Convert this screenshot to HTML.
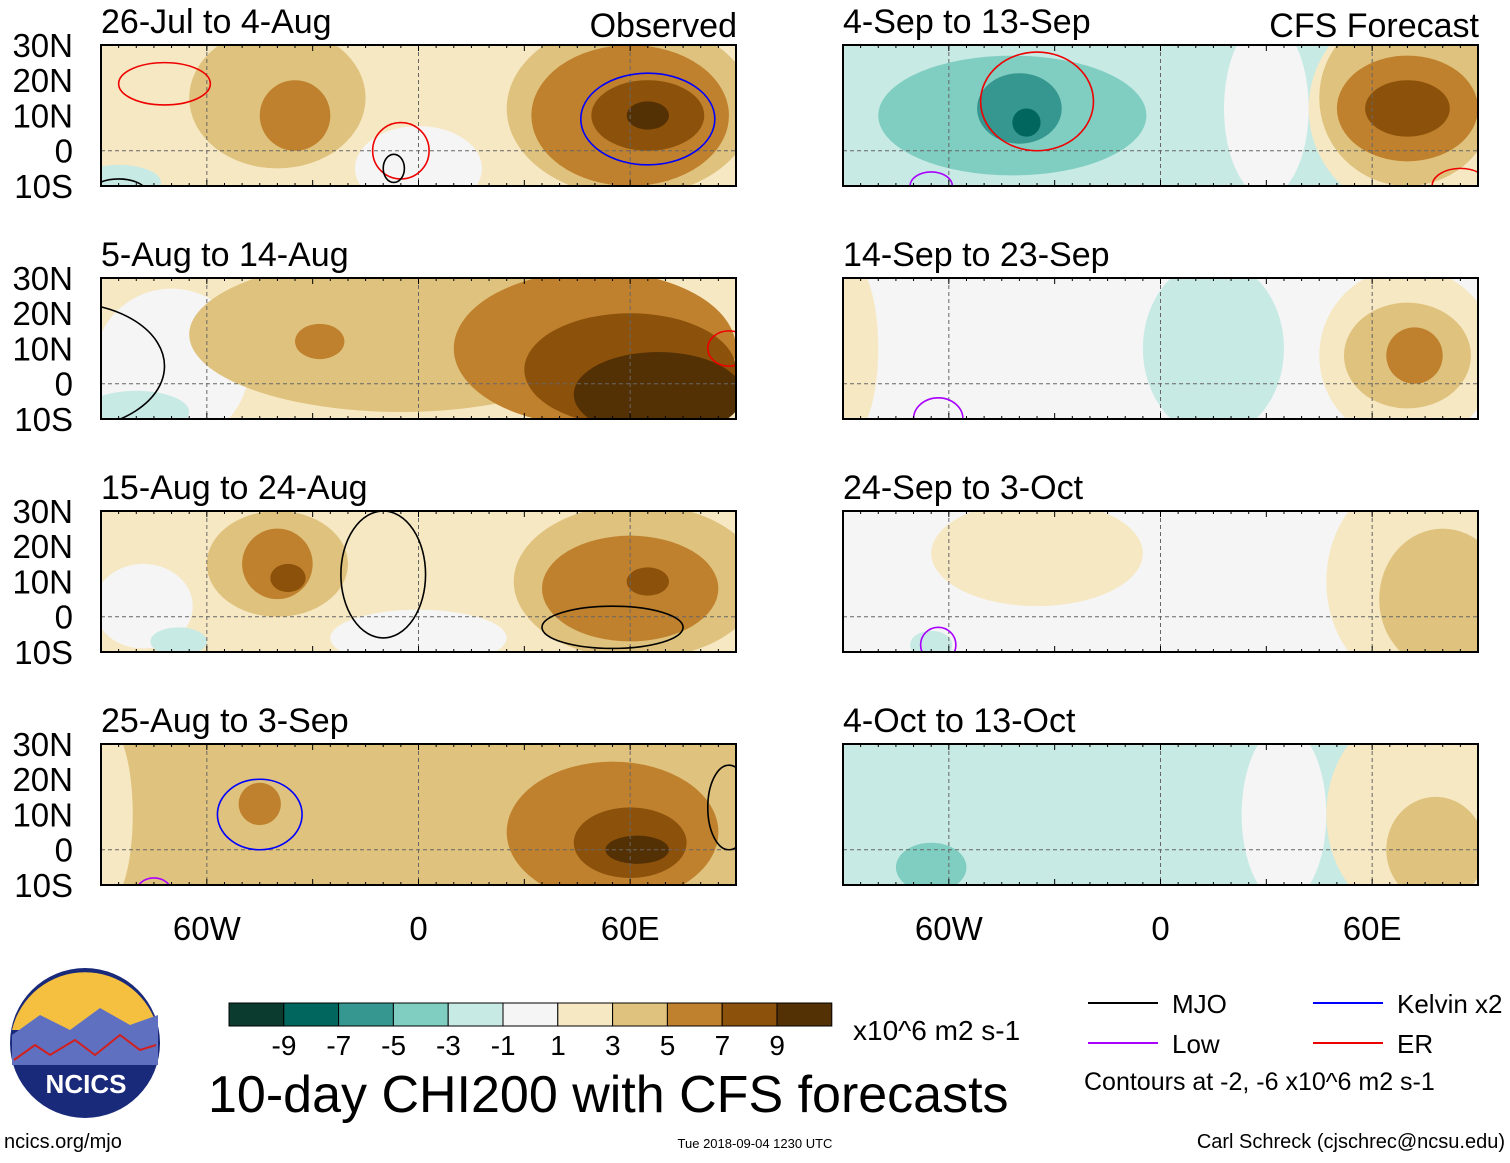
<!DOCTYPE html>
<html><head><meta charset="utf-8">
<style>
body{margin:0;background:#fff;font-family:"Liberation Sans",sans-serif;}
svg text{font-family:"Liberation Sans",sans-serif;}
</style></head>
<body>
<svg id="chart" width="1510" height="1158" xmlns="http://www.w3.org/2000/svg">
<rect width="1510" height="1158" fill="#fff"/>
<g id="panels"></g>
<g id="legend"></g>
</svg>
<script>
const colors = ["#0b3b2e","#01665e","#35978f","#80cdc1","#c7eae5","#f5f5f5","#f6e8c3","#dfc27d","#bf812d","#8c510a","#543005"];
const levelLabels = ["-9","-7","-5","-3","-1","1","3","5","7","9"];
const panelTitles = ["26-Jul to 4-Aug","5-Aug to 14-Aug","15-Aug to 24-Aug","25-Aug to 3-Sep","4-Sep to 13-Sep","14-Sep to 23-Sep","24-Sep to 3-Oct","4-Oct to 13-Oct"];
const panelBase = [6,6,6,7,4,5,5,4];
// blobs: [lon, lat, rlon, rlat, level]
const blobs0 = [[-40,15,25,20,7],[-35,10,10,10,8],[0,-5,18,12,5],[-85,-9,12,5,4],[60,12,35,25,7],[60,10,28,20,8],[65,10,16,10,9],[65,10,6,4,10]];
const blobs1 = [[-70,5,22,22,5],[-80,-8,15,6,4],[-5,14,60,22,7],[-28,12,7,5,8],[50,10,40,22,8],[60,4,30,16,9],[68,-3,24,12,10]];
const blobs2 = [[-78,3,14,12,5],[-68,-7,8,4,4],[0,-6,25,8,5],[-40,15,20,15,7],[-40,15,10,10,8],[-37,11,5,4,9],[62,10,35,22,7],[60,8,25,15,8],[65,10,6,4,9]];
const blobs3 = [[-88,10,7,25,6],[-45,13,6,6,8],[55,5,30,20,8],[60,2,16,10,9],[62,0,9,4,10]];
const blobs4 = [[-42,10,38,17,3],[-40,12,12,10,2],[-38,8,4,4,1],[30,12,12,25,5],[72,12,30,30,6],[70,15,25,25,7],[70,12,20,15,8],[70,12,12,8,9]];
const blobs5 = [[-88,10,8,25,6],[15,10,20,25,4],[70,8,25,25,6],[70,8,18,15,7],[72,8,8,8,8]];
const blobs6 = [[-35,18,30,15,6],[72,10,25,30,6],[80,5,18,20,7],[-65,-8,6,4,4]];
const blobs7 = [[35,10,12,25,5],[72,10,25,30,6],[78,0,14,15,7],[-65,-5,10,7,3]];
const panelBlobs = [blobs0,blobs1,blobs2,blobs3,blobs4,blobs5,blobs6,blobs7];
// contours: [lon, lat, rlon, rlat, color]
const contours0 = [[-72,19,13,6,"#e00"],[65,9,19,13,"#00f"],[-5,0,8,8,"#e00"],[-7,-5,3,4,"#000"],[-85,-12,8,4,"#000"]];
const contours1 = [[-100,5,28,18,"#000"],[88,10,6,5,"#e00"]];
const contours2 = [[-10,12,12,18,"#000"],[55,-3,20,6,"#000"]];
const contours3 = [[-45,10,12,10,"#00f"],[-75,-12,5,4,"#a0f"],[88,12,6,12,"#000"]];
const contours4 = [[-35,14,16,14,"#e00"],[-65,-10,6,4,"#a0f"],[85,-10,8,5,"#e00"]];
const contours5 = [[-63,-10,7,6,"#a0f"]];
const contours6 = [[-63,-8,5,5,"#a0f"]];
const contours7 = [];
const panelContours = [contours0,contours1,contours2,contours3,contours4,contours5,contours6,contours7];

const NS="http://www.w3.org/2000/svg";
function mk(t,a,p){const e=document.createElementNS(NS,t);for(const k in a)e.setAttribute(k,a[k]);p.appendChild(e);return e;}
const colX=[101,843], rowY=[45,278,511,744], PW=635, PH=141;
const xScale=(lon,x0)=>x0+(lon+90)/180*PW;
const yScale=(lat,y0)=>y0+(30-lat)/40*PH;
const pg=document.getElementById('panels');
const defs=mk('defs',{},pg);
for(let i=0;i<8;i++){
  const x0=colX[Math.floor(i/4)], y0=rowY[i%4];
  const cp=mk('clipPath',{id:'cp'+i},defs);mk('rect',{x:x0,y:y0,width:PW,height:PH},cp);
  const g=mk('g',{'clip-path':'url(#cp'+i+')'},pg);
  
  
  mk('rect',{x:x0,y:y0,width:PW,height:PH,fill:colors[panelBase[i]]},g);
  panelBlobs[i].forEach(b=>{
    const e=mk('ellipse',{cx:xScale(b[0],x0),cy:yScale(b[1],y0),rx:b[2]/180*PW,ry:b[3]/40*PH,fill:colors[b[4]]},g);
    
    
  });
  [-60,0,60].forEach(l=>mk('line',{x1:xScale(l,x0),x2:xScale(l,x0),y1:y0,y2:y0+PH,stroke:'#666','stroke-dasharray':'4,3','stroke-width':1},g));
  mk('line',{x1:x0,x2:x0+PW,y1:yScale(0,y0),y2:yScale(0,y0),stroke:'#666','stroke-dasharray':'4,3','stroke-width':1},g);
  panelContours[i].forEach(c=>{
    const e=mk('ellipse',{cx:xScale(c[0],x0),cy:yScale(c[1],y0),rx:c[2]/180*PW,ry:c[3]/40*PH,fill:'none',stroke:c[4],'stroke-width':1.6},g);
    
    
  });
  mk('rect',{x:x0,y:y0,width:PW,height:PH,fill:'none',stroke:'#000','stroke-width':2},pg);
  for(let l=-90;l<=90;l+=5){const x=xScale(l,x0);const len=l%30===0?6:3;
    mk('line',{x1:x,x2:x,y1:y0,y2:y0+len,stroke:'#000'},pg);mk('line',{x1:x,x2:x,y1:y0+PH,y2:y0+PH-len,stroke:'#000'},pg);}
  const t=mk('text',{x:x0,y:y0-12,'font-size':34},pg);t.textContent=panelTitles[i];
  
  
  if(i%4===3){["60W","0","60E"].forEach((s,k)=>{const tt=mk('text',{x:xScale([-60,0,60][k],x0),y:940,'font-size':33,'text-anchor':'middle'},pg);tt.textContent=s;
    });}
  if(i<4){["30N","20N","10N","0","10S"].forEach((s,k)=>{const tt=mk('text',{x:73,y:y0+12+k*35.2,'font-size':33,'text-anchor':'end'},pg);tt.textContent=s;
    });}
}
const hdr=(s,x,n)=>{const t=mk('text',{x:x,y:37,'font-size':34,'text-anchor':'end'},pg);t.textContent=s;};
hdr("Observed",737,'observed-label');hdr("CFS Forecast",1479,'forecast-label');

const lg=document.getElementById('legend');
for(let i=0;i<11;i++){const r=mk('rect',{x:229+i*54.8,y:1003,width:54.8,height:23,fill:colors[i],stroke:'#000','stroke-width':1},lg);
  }
levelLabels.forEach((s,i)=>{const t=mk('text',{x:284+i*54.8,y:1055,'font-size':28,'text-anchor':'middle'},lg);t.textContent=s;
  });
const txt=(s,x,y,fs,n,anchor)=>{const t=mk('text',{x:x,y:y,'font-size':fs,'text-anchor':anchor||'start'},lg);t.textContent=s;return t;};
txt("x10^6 m2 s-1",853,1040,28,'units-label');
txt("10-day CHI200 with CFS forecasts",208,1112,52,'main-title');
[["MJO","#000",1088,1003],["Low","#a0f",1088,1043],["Kelvin x2","#00f",1313,1003],["ER","#e00",1313,1043]].forEach(e=>{
  mk('line',{x1:e[2],x2:e[2]+70,y1:e[3],y2:e[3],stroke:e[1],'stroke-width':2},lg);
  txt(e[0],e[2]+84,e[3]+10,26,'legend-entry');});
txt("Contours at -2, -6 x10^6 m2 s-1",1084,1090,25,'contour-note');
txt("ncics.org/mjo",4,1148,20,'website-label');
txt("Tue 2018-09-04 1230 UTC",755,1148,13,'timestamp','middle');
txt("Carl Schreck (cjschrec@ncsu.edu)",1505,1148,20,'author-label','end');
const logo=mk('g',{},lg);
mk('circle',{cx:85,cy:1043,r:75,fill:'#1a2a7a'},logo);
mk('path',{d:'M12,1030 A75,75 0 0 1 158,1030 Z',fill:'#f5c040'},logo);
mk('path',{d:'M12,1035 L40,1015 L70,1030 L100,1008 L130,1025 L158,1015 L158,1065 L12,1065 Z',fill:'#6070c0'},logo);
mk('path',{d:'M14,1060 L35,1045 L50,1055 L75,1040 L95,1055 L120,1035 L140,1050 L156,1045',fill:'none',stroke:'#d02020','stroke-width':2},logo);
const lt=mk('text',{x:86,y:1093,'font-size':26,'font-weight':'bold','text-anchor':'middle',fill:'#fff'},logo);lt.textContent="NCICS";
</script>
</body></html>
